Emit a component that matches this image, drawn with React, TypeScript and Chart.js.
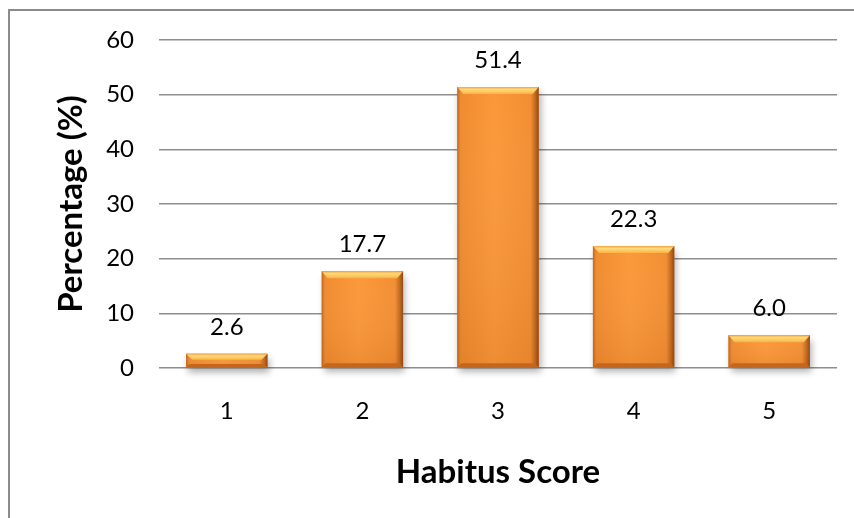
import React, { useEffect, useRef } from "react";
import { Chart, registerables } from "chart.js";

Chart.register(...registerables);

const categories = ["1", "2", "3", "4", "5"];
const percentages = [2.6, 17.7, 51.4, 22.3, 6.0];
const valueLabels = ["2.6", "17.7", "51.4", "22.3", "6.0"];
const yMin = 0;
const yMax = 60;
const yStep = 10;
const xTitle = "Habitus Score";
const yTitle = "Percentage (%)";

const FONT = "Lato, 'Open Sans', 'Liberation Sans', sans-serif";

const bevelBars = {
  id: "bevelBars",
  afterDatasetsDraw(chart: any) {
    const ctx = chart.ctx as CanvasRenderingContext2D;
    const meta = chart.getDatasetMeta(0);
    meta.data.forEach((bar: any, i: number) => {
      const { x, y, base, width } = bar.getProps(["x", "y", "base", "width"], true);
      const l = x - width / 2;
      const r = x + width / 2;
      const t = Math.min(y, base);
      const b = Math.max(y, base);
      const h = b - t;
      ctx.save();
      ctx.shadowColor = "rgba(0,0,0,0.32)";
      ctx.shadowBlur = 7;
      ctx.shadowOffsetY = 5;
      ctx.shadowOffsetX = 2;
      ctx.fillStyle = "#E9832A";
      ctx.fillRect(l, t, width, h);
      ctx.restore();

      ctx.save();
      const g = ctx.createLinearGradient(l, 0, r, 0);
      g.addColorStop(0, "#C0661D");
      g.addColorStop(0.04, "#F08B2F");
      g.addColorStop(0.45, "#FB9839");
      g.addColorStop(0.9, "#F28E32");
      g.addColorStop(0.955, "#C56A1F");
      g.addColorStop(1, "#8E4813");
      ctx.fillStyle = g;
      ctx.fillRect(l, t, width, h);
      const gv = ctx.createLinearGradient(0, t, 0, b);
      gv.addColorStop(0, "rgba(255,255,255,0)");
      gv.addColorStop(1, "rgba(140,60,0,0.12)");
      ctx.fillStyle = gv;
      ctx.fillRect(l, t, width, h);

      const bh = Math.min(7, h * 0.45);
      const inset = Math.min(6, bh);
      const gt = ctx.createLinearGradient(0, t, 0, t + bh);
      gt.addColorStop(0, "#F6A347");
      gt.addColorStop(0.35, "#FFDC78");
      gt.addColorStop(1, "#FBB14A");
      ctx.fillStyle = gt;
      ctx.beginPath();
      ctx.moveTo(l, t);
      ctx.lineTo(r, t);
      ctx.lineTo(r - inset, t + bh);
      ctx.lineTo(l + inset, t + bh);
      ctx.closePath();
      ctx.fill();

      const bb = Math.min(4, h * 0.25);
      ctx.fillStyle = "#C4661E";
      ctx.beginPath();
      ctx.moveTo(l, b);
      ctx.lineTo(r, b);
      ctx.lineTo(r - bb, b - bb);
      ctx.lineTo(l + bb, b - bb);
      ctx.closePath();
      ctx.fill();
      ctx.restore();

      ctx.save();
      ctx.font = `24px ${FONT}`;
      ctx.fillStyle = "#000000";
      ctx.textAlign = "center";
      ctx.textBaseline = "middle";
      ctx.fillText(valueLabels[i], x, t - 27);
      ctx.restore();
    });
  },
};

export default function App() {
  const ref = useRef<HTMLCanvasElement | null>(null);

  useEffect(() => {
    document.body.style.margin = "0";
    if (!ref.current) return;
    const chart = new Chart(ref.current, {
      type: "bar",
      data: {
        labels: categories,
        datasets: [
          {
            data: percentages,
            backgroundColor: "rgba(0,0,0,0)",
            borderWidth: 0,
            barPercentage: 0.6,
            categoryPercentage: 1,
          },
        ],
      },
      options: {
        responsive: false,
        animation: false,
        events: [],
        layout: { padding: { top: 40, right: 17, left: 0, bottom: 0 } },
        plugins: {
          legend: { display: false },
          tooltip: { enabled: false },
          title: { display: false },
        },
        scales: {
          x: {
            grid: { display: false },
            border: { display: false },
            ticks: {
              color: "#000000",
              font: { family: FONT, size: 24 },
              padding: 21,
            },
            title: {
              display: true,
              text: xTitle,
              color: "#000000",
              font: { family: FONT, size: 33, weight: "bold" },
              padding: { top: 0, bottom: 26 },
            },
            afterFit(scale: any) {
              scale.height = 150;
            },
          },
          y: {
            min: yMin,
            max: yMax,
            grid: {
              color: "#8e8e8e",
              lineWidth: 1.5,
              drawTicks: false,
            },
            border: { display: false },
            ticks: {
              stepSize: yStep,
              color: "#000000",
              font: { family: FONT, size: 24 },
              padding: 25,
            },
            title: {
              display: true,
              text: yTitle,
              color: "#000000",
              font: { family: FONT, size: 33, weight: "bold" },
              padding: { top: 52, bottom: 0 },
            },
            afterFit(scale: any) {
              scale.width = 159;
            },
          },
        },
      },
      plugins: [bevelBars],
    });
    return () => chart.destroy();
  }, []);

  return (
    <div style={{ position: "relative", width: 854, height: 518, background: "#ffffff", overflow: "hidden" }}>
      <div
        style={{
          position: "absolute",
          left: 8,
          top: 9,
          width: 900,
          height: 600,
          borderTop: "2px solid #8b8b8b",
          borderLeft: "2px solid #8b8b8b",
        }}
      />
      <canvas ref={ref} width={854} height={518} style={{ position: "absolute", left: 0, top: 0 }} />
    </div>
  );
}
